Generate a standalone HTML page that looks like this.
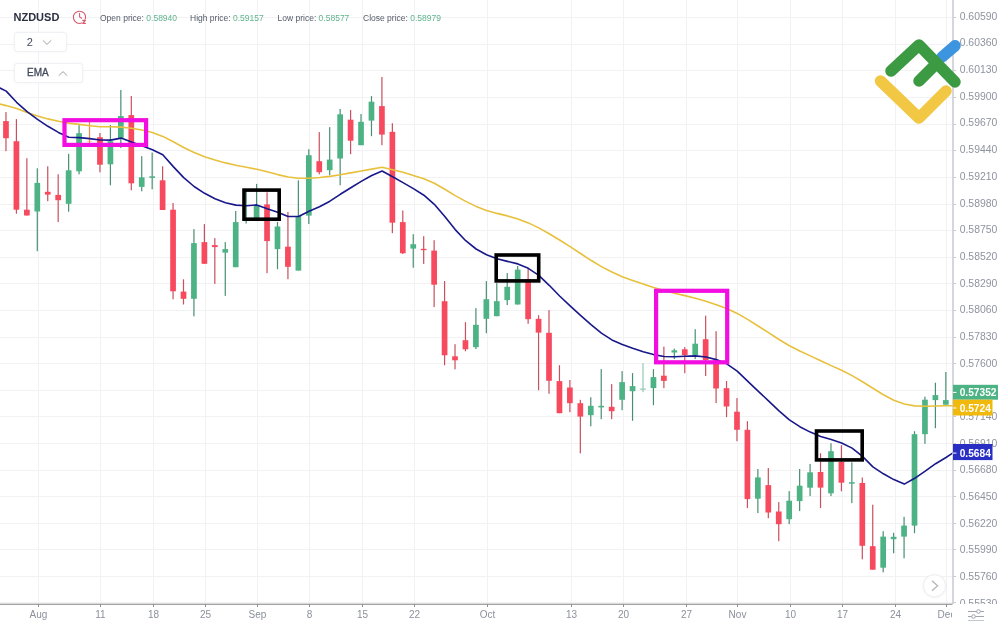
<!DOCTYPE html>
<html><head><meta charset="utf-8"><title>NZDUSD</title>
<style>
html,body{margin:0;padding:0;background:#fff}
body{width:1000px;height:623px;position:relative;overflow:hidden;font-family:"Liberation Sans",Arial,sans-serif}
.sym{position:absolute;left:13.5px;top:11px;font-size:11px;font-weight:bold;color:#2b3040;line-height:13px;letter-spacing:0}
.ohlc{position:absolute;top:12px;font-size:8.5px;line-height:12px;color:#555b68;white-space:nowrap}
.ohlc b{font-weight:normal;color:#5fb58d}
.btn{position:absolute;box-sizing:border-box;border:1px solid #f0f1f4;border-radius:3.5px;background:#fff;box-shadow:0 0 2px rgba(200,205,215,0.25);color:#454b5e;font-size:10px;line-height:20px}
</style></head><body>
<svg width="1000" height="623" viewBox="0 0 1000 623" style="position:absolute;left:0;top:0">
<g stroke="#f2f2f5" stroke-width="1" shape-rendering="crispEdges">
<line x1="0" y1="17.5" x2="953" y2="17.5"/>
<line x1="0" y1="44.5" x2="953" y2="44.5"/>
<line x1="0" y1="70.5" x2="953" y2="70.5"/>
<line x1="0" y1="97.5" x2="953" y2="97.5"/>
<line x1="0" y1="124.5" x2="953" y2="124.5"/>
<line x1="0" y1="150.5" x2="953" y2="150.5"/>
<line x1="0" y1="177.5" x2="953" y2="177.5"/>
<line x1="0" y1="204.5" x2="953" y2="204.5"/>
<line x1="0" y1="230.5" x2="953" y2="230.5"/>
<line x1="0" y1="257.5" x2="953" y2="257.5"/>
<line x1="0" y1="283.5" x2="953" y2="283.5"/>
<line x1="0" y1="310.5" x2="953" y2="310.5"/>
<line x1="0" y1="337.5" x2="953" y2="337.5"/>
<line x1="0" y1="363.5" x2="953" y2="363.5"/>
<line x1="0" y1="390.5" x2="953" y2="390.5"/>
<line x1="0" y1="416.5" x2="953" y2="416.5"/>
<line x1="0" y1="443.5" x2="953" y2="443.5"/>
<line x1="0" y1="470.5" x2="953" y2="470.5"/>
<line x1="0" y1="496.5" x2="953" y2="496.5"/>
<line x1="0" y1="523.5" x2="953" y2="523.5"/>
<line x1="0" y1="549.5" x2="953" y2="549.5"/>
<line x1="0" y1="576.5" x2="953" y2="576.5"/>
<line x1="0" y1="602.5" x2="953" y2="602.5"/>
<line x1="38.5" y1="0" x2="38.5" y2="604"/>
<line x1="100.5" y1="0" x2="100.5" y2="604"/>
<line x1="153.5" y1="0" x2="153.5" y2="604"/>
<line x1="205.5" y1="0" x2="205.5" y2="604"/>
<line x1="257.5" y1="0" x2="257.5" y2="604"/>
<line x1="309.5" y1="0" x2="309.5" y2="604"/>
<line x1="362.5" y1="0" x2="362.5" y2="604"/>
<line x1="414.5" y1="0" x2="414.5" y2="604"/>
<line x1="487.5" y1="0" x2="487.5" y2="604"/>
<line x1="571.5" y1="0" x2="571.5" y2="604"/>
<line x1="623.5" y1="0" x2="623.5" y2="604"/>
<line x1="686.5" y1="0" x2="686.5" y2="604"/>
<line x1="737.5" y1="0" x2="737.5" y2="604"/>
<line x1="790.5" y1="0" x2="790.5" y2="604"/>
<line x1="842.5" y1="0" x2="842.5" y2="604"/>
<line x1="895.5" y1="0" x2="895.5" y2="604"/>
<line x1="946.5" y1="0" x2="946.5" y2="604"/>
</g>
<g clip-path="url(#plot)">
<defs><clipPath id="plot"><rect x="0" y="0" width="953" height="604"/></clipPath></defs>
<rect x="5.37" y="112.1" width="1.2" height="39.1" fill="#c9505e"/>
<rect x="3.12" y="121.1" width="5.7" height="17.1" fill="#f84a5e"/>
<rect x="15.81" y="119.1" width="1.2" height="94.6" fill="#c9505e"/>
<rect x="13.56" y="141.2" width="5.7" height="68.5" fill="#f84a5e"/>
<rect x="26.26" y="158.2" width="1.2" height="57.3" fill="#c9505e"/>
<rect x="24.01" y="209.7" width="5.7" height="5.8" fill="#f84a5e"/>
<rect x="36.70" y="168.3" width="1.2" height="82.9" fill="#4a8f73"/>
<rect x="34.45" y="182.9" width="5.7" height="28.6" fill="#4db385"/>
<rect x="47.14" y="166.3" width="1.2" height="34.9" fill="#c9505e"/>
<rect x="44.89" y="191.8" width="5.7" height="2.8" fill="#f84a5e"/>
<rect x="57.58" y="174.3" width="1.2" height="47.8" fill="#c9505e"/>
<rect x="55.33" y="194.9" width="5.7" height="5.3" fill="#f84a5e"/>
<rect x="68.03" y="153.8" width="1.2" height="57.9" fill="#4a8f73"/>
<rect x="65.78" y="170.3" width="5.7" height="33.5" fill="#4db385"/>
<rect x="78.47" y="125.1" width="1.2" height="49.2" fill="#4a8f73"/>
<rect x="76.22" y="133.2" width="5.7" height="38.1" fill="#4db385"/>
<rect x="88.91" y="122.0" width="1.2" height="24.0" fill="#f08a4b"/>
<rect x="86.66" y="141.0" width="5.7" height="0.3" fill="#f08a4b"/>
<rect x="99.36" y="133.0" width="1.2" height="39.3" fill="#c9505e"/>
<rect x="97.11" y="137.2" width="5.7" height="27.5" fill="#f84a5e"/>
<rect x="109.80" y="125.0" width="1.2" height="60.3" fill="#4a8f73"/>
<rect x="107.55" y="141.2" width="5.7" height="23.1" fill="#4db385"/>
<rect x="120.24" y="90.0" width="1.2" height="58.0" fill="#4a8f73"/>
<rect x="117.99" y="116.1" width="5.7" height="22.1" fill="#4db385"/>
<rect x="130.69" y="96.0" width="1.2" height="94.3" fill="#c9505e"/>
<rect x="128.44" y="115.1" width="5.7" height="68.2" fill="#f84a5e"/>
<rect x="141.13" y="156.2" width="1.2" height="35.1" fill="#4a8f73"/>
<rect x="138.88" y="177.3" width="5.7" height="9.6" fill="#4db385"/>
<rect x="151.57" y="152.6" width="1.2" height="36.7" fill="#4a8f73"/>
<rect x="149.32" y="176.3" width="5.7" height="1.6" fill="#4db385"/>
<rect x="162.01" y="166.3" width="1.2" height="43.7" fill="#c9505e"/>
<rect x="159.76" y="180.3" width="5.7" height="29.7" fill="#f84a5e"/>
<rect x="172.46" y="203.0" width="1.2" height="96.3" fill="#c9505e"/>
<rect x="170.21" y="209.7" width="5.7" height="81.6" fill="#f84a5e"/>
<rect x="182.90" y="279.3" width="1.2" height="25.2" fill="#c9505e"/>
<rect x="180.65" y="291.6" width="5.7" height="7.2" fill="#f84a5e"/>
<rect x="193.34" y="229.1" width="1.2" height="87.2" fill="#4a8f73"/>
<rect x="191.09" y="243.1" width="5.7" height="55.7" fill="#4db385"/>
<rect x="203.79" y="224.1" width="1.2" height="39.7" fill="#c9505e"/>
<rect x="201.54" y="242.1" width="5.7" height="21.7" fill="#f84a5e"/>
<rect x="214.23" y="238.1" width="1.2" height="45.8" fill="#c9505e"/>
<rect x="211.98" y="245.1" width="5.7" height="2.0" fill="#f84a5e"/>
<rect x="224.67" y="242.1" width="1.2" height="53.8" fill="#4a8f73"/>
<rect x="222.42" y="249.1" width="5.7" height="3.5" fill="#4db385"/>
<rect x="235.12" y="211.0" width="1.2" height="56.2" fill="#4a8f73"/>
<rect x="232.87" y="222.1" width="5.7" height="45.1" fill="#4db385"/>
<rect x="245.56" y="190.0" width="1.2" height="33.5" fill="#4a8f73"/>
<rect x="243.31" y="218.5" width="5.7" height="1.0" fill="#4db385"/>
<rect x="256.00" y="183.9" width="1.2" height="35.1" fill="#4a8f73"/>
<rect x="253.75" y="205.3" width="5.7" height="13.7" fill="#4db385"/>
<rect x="266.44" y="192.3" width="1.2" height="80.9" fill="#c9505e"/>
<rect x="264.19" y="204.4" width="5.7" height="36.7" fill="#f84a5e"/>
<rect x="276.89" y="222.0" width="1.2" height="47.2" fill="#4a8f73"/>
<rect x="274.64" y="226.5" width="5.7" height="22.6" fill="#4db385"/>
<rect x="287.33" y="212.0" width="1.2" height="67.2" fill="#c9505e"/>
<rect x="285.08" y="246.7" width="5.7" height="20.1" fill="#f84a5e"/>
<rect x="297.77" y="180.3" width="1.2" height="90.3" fill="#4a8f73"/>
<rect x="295.52" y="216.0" width="5.7" height="54.6" fill="#4db385"/>
<rect x="308.22" y="149.2" width="1.2" height="74.8" fill="#4a8f73"/>
<rect x="305.97" y="155.2" width="5.7" height="60.4" fill="#4db385"/>
<rect x="318.66" y="132.1" width="1.2" height="42.2" fill="#c9505e"/>
<rect x="316.41" y="161.2" width="5.7" height="11.0" fill="#f84a5e"/>
<rect x="329.10" y="127.1" width="1.2" height="48.2" fill="#4a8f73"/>
<rect x="326.85" y="159.6" width="5.7" height="10.6" fill="#4db385"/>
<rect x="339.55" y="109.0" width="1.2" height="76.3" fill="#4a8f73"/>
<rect x="337.30" y="114.3" width="5.7" height="44.2" fill="#4db385"/>
<rect x="349.99" y="110.0" width="1.2" height="44.2" fill="#c9505e"/>
<rect x="347.74" y="119.7" width="5.7" height="21.0" fill="#f84a5e"/>
<rect x="360.43" y="114.0" width="1.2" height="31.2" fill="#4a8f73"/>
<rect x="358.18" y="121.8" width="5.7" height="23.4" fill="#4db385"/>
<rect x="370.88" y="96.1" width="1.2" height="40.1" fill="#4a8f73"/>
<rect x="368.62" y="101.7" width="5.7" height="18.9" fill="#4db385"/>
<rect x="381.32" y="77.0" width="1.2" height="68.2" fill="#c9505e"/>
<rect x="379.07" y="106.1" width="5.7" height="28.5" fill="#f84a5e"/>
<rect x="391.76" y="123.2" width="1.2" height="110.0" fill="#c9505e"/>
<rect x="389.51" y="131.8" width="5.7" height="90.9" fill="#f84a5e"/>
<rect x="402.20" y="210.5" width="1.2" height="43.5" fill="#c9505e"/>
<rect x="399.95" y="222.1" width="5.7" height="31.1" fill="#f84a5e"/>
<rect x="412.65" y="234.2" width="1.2" height="33.5" fill="#4a8f73"/>
<rect x="410.40" y="244.2" width="5.7" height="4.4" fill="#4db385"/>
<rect x="423.09" y="236.2" width="1.2" height="27.7" fill="#c9505e"/>
<rect x="420.84" y="248.8" width="5.7" height="1.4" fill="#f84a5e"/>
<rect x="433.53" y="240.2" width="1.2" height="66.9" fill="#c9505e"/>
<rect x="431.28" y="250.6" width="5.7" height="34.1" fill="#f84a5e"/>
<rect x="443.98" y="281.0" width="1.2" height="84.3" fill="#c9505e"/>
<rect x="441.73" y="301.2" width="5.7" height="54.1" fill="#f84a5e"/>
<rect x="454.42" y="344.2" width="1.2" height="25.1" fill="#c9505e"/>
<rect x="452.17" y="356.3" width="5.7" height="4.0" fill="#f84a5e"/>
<rect x="464.86" y="322.2" width="1.2" height="29.1" fill="#c9505e"/>
<rect x="462.61" y="340.2" width="5.7" height="9.1" fill="#f84a5e"/>
<rect x="475.31" y="308.1" width="1.2" height="40.9" fill="#4a8f73"/>
<rect x="473.06" y="324.8" width="5.7" height="22.4" fill="#4db385"/>
<rect x="485.75" y="281.1" width="1.2" height="52.1" fill="#4a8f73"/>
<rect x="483.50" y="299.2" width="5.7" height="19.6" fill="#4db385"/>
<rect x="496.19" y="283.1" width="1.2" height="33.1" fill="#4a8f73"/>
<rect x="493.94" y="301.2" width="5.7" height="15.0" fill="#4db385"/>
<rect x="506.63" y="273.1" width="1.2" height="32.0" fill="#4a8f73"/>
<rect x="504.38" y="286.8" width="5.7" height="13.3" fill="#4db385"/>
<rect x="517.08" y="266.0" width="1.2" height="38.5" fill="#4a8f73"/>
<rect x="514.83" y="269.6" width="5.7" height="34.9" fill="#4db385"/>
<rect x="527.52" y="268.3" width="1.2" height="55.5" fill="#c9505e"/>
<rect x="525.27" y="279.2" width="5.7" height="40.0" fill="#f84a5e"/>
<rect x="537.96" y="315.2" width="1.2" height="75.0" fill="#c9505e"/>
<rect x="535.71" y="318.8" width="5.7" height="13.8" fill="#f84a5e"/>
<rect x="548.41" y="310.1" width="1.2" height="83.7" fill="#c9505e"/>
<rect x="546.16" y="332.8" width="5.7" height="48.0" fill="#f84a5e"/>
<rect x="558.85" y="365.2" width="1.2" height="48.0" fill="#c9505e"/>
<rect x="556.60" y="381.1" width="5.7" height="32.1" fill="#f84a5e"/>
<rect x="569.29" y="380.0" width="1.2" height="32.2" fill="#c9505e"/>
<rect x="567.04" y="387.5" width="5.7" height="15.7" fill="#f84a5e"/>
<rect x="579.73" y="399.8" width="1.2" height="53.5" fill="#c9505e"/>
<rect x="577.48" y="403.2" width="5.7" height="13.4" fill="#f84a5e"/>
<rect x="590.18" y="397.2" width="1.2" height="29.1" fill="#4a8f73"/>
<rect x="587.93" y="405.8" width="5.7" height="9.4" fill="#4db385"/>
<rect x="600.62" y="369.1" width="1.2" height="50.1" fill="#4a8f73"/>
<rect x="598.37" y="405.8" width="5.7" height="1.6" fill="#4db385"/>
<rect x="611.06" y="384.1" width="1.2" height="35.1" fill="#c9505e"/>
<rect x="608.81" y="406.8" width="5.7" height="4.4" fill="#f84a5e"/>
<rect x="621.51" y="371.1" width="1.2" height="39.1" fill="#4a8f73"/>
<rect x="619.26" y="382.1" width="5.7" height="17.7" fill="#4db385"/>
<rect x="631.95" y="373.1" width="1.2" height="47.7" fill="#4a8f73"/>
<rect x="629.70" y="386.1" width="5.7" height="5.1" fill="#4db385"/>
<rect x="642.39" y="363.1" width="1.2" height="29.1" fill="#93c9b3"/>
<rect x="640.14" y="388.5" width="5.7" height="1.2" fill="#93c9b3"/>
<rect x="652.84" y="369.1" width="1.2" height="36.1" fill="#4a8f73"/>
<rect x="650.59" y="377.1" width="5.7" height="11.0" fill="#4db385"/>
<rect x="663.28" y="346.6" width="1.2" height="41.6" fill="#c9505e"/>
<rect x="661.03" y="375.7" width="5.7" height="5.2" fill="#f84a5e"/>
<rect x="673.72" y="348.6" width="1.2" height="10.5" fill="#4a8f73"/>
<rect x="671.47" y="350.3" width="5.7" height="2.2" fill="#4db385"/>
<rect x="684.16" y="347.1" width="1.2" height="26.1" fill="#c9505e"/>
<rect x="681.91" y="349.3" width="5.7" height="5.8" fill="#f84a5e"/>
<rect x="694.61" y="329.2" width="1.2" height="29.9" fill="#4a8f73"/>
<rect x="692.36" y="343.7" width="5.7" height="11.4" fill="#4db385"/>
<rect x="705.05" y="315.7" width="1.2" height="60.3" fill="#c9505e"/>
<rect x="702.80" y="339.2" width="5.7" height="20.9" fill="#f84a5e"/>
<rect x="715.49" y="331.2" width="1.2" height="71.9" fill="#c9505e"/>
<rect x="713.24" y="360.0" width="5.7" height="28.5" fill="#f84a5e"/>
<rect x="725.94" y="381.0" width="1.2" height="36.1" fill="#c9505e"/>
<rect x="723.69" y="388.2" width="5.7" height="18.3" fill="#f84a5e"/>
<rect x="736.38" y="398.1" width="1.2" height="43.1" fill="#c9505e"/>
<rect x="734.13" y="411.7" width="5.7" height="18.1" fill="#f84a5e"/>
<rect x="746.82" y="421.2" width="1.2" height="86.9" fill="#c9505e"/>
<rect x="744.57" y="429.8" width="5.7" height="69.3" fill="#f84a5e"/>
<rect x="757.27" y="469.0" width="1.2" height="44.1" fill="#4a8f73"/>
<rect x="755.02" y="477.4" width="5.7" height="21.3" fill="#4db385"/>
<rect x="767.71" y="468.0" width="1.2" height="50.2" fill="#c9505e"/>
<rect x="765.46" y="485.1" width="5.7" height="27.4" fill="#f84a5e"/>
<rect x="778.15" y="502.1" width="1.2" height="39.1" fill="#c9505e"/>
<rect x="775.90" y="511.5" width="5.7" height="12.7" fill="#f84a5e"/>
<rect x="788.59" y="491.1" width="1.2" height="33.1" fill="#4a8f73"/>
<rect x="786.34" y="500.7" width="5.7" height="18.5" fill="#4db385"/>
<rect x="799.04" y="469.0" width="1.2" height="42.1" fill="#4a8f73"/>
<rect x="796.79" y="485.7" width="5.7" height="15.4" fill="#4db385"/>
<rect x="809.48" y="464.0" width="1.2" height="32.1" fill="#4a8f73"/>
<rect x="807.23" y="472.3" width="5.7" height="15.4" fill="#4db385"/>
<rect x="819.92" y="453.2" width="1.2" height="54.9" fill="#c9505e"/>
<rect x="817.67" y="472.0" width="5.7" height="15.6" fill="#f84a5e"/>
<rect x="830.37" y="443.2" width="1.2" height="52.9" fill="#4a8f73"/>
<rect x="828.12" y="451.2" width="5.7" height="42.1" fill="#4db385"/>
<rect x="840.81" y="445.2" width="1.2" height="46.1" fill="#c9505e"/>
<rect x="838.56" y="461.9" width="5.7" height="20.8" fill="#f84a5e"/>
<rect x="851.25" y="462.3" width="1.2" height="40.8" fill="#4a8f73"/>
<rect x="849.00" y="482.2" width="5.7" height="1.5" fill="#4db385"/>
<rect x="861.70" y="477.5" width="1.2" height="81.8" fill="#c9505e"/>
<rect x="859.45" y="483.0" width="5.7" height="62.8" fill="#f84a5e"/>
<rect x="872.14" y="504.7" width="1.2" height="65.0" fill="#c9505e"/>
<rect x="869.89" y="546.2" width="5.7" height="23.5" fill="#f84a5e"/>
<rect x="882.58" y="531.2" width="1.2" height="41.1" fill="#4a8f73"/>
<rect x="880.33" y="536.6" width="5.7" height="31.1" fill="#4db385"/>
<rect x="893.02" y="532.8" width="1.2" height="20.5" fill="#4a8f73"/>
<rect x="890.77" y="536.8" width="5.7" height="2.4" fill="#4db385"/>
<rect x="903.47" y="516.8" width="1.2" height="41.5" fill="#4a8f73"/>
<rect x="901.22" y="525.6" width="5.7" height="11.0" fill="#4db385"/>
<rect x="913.91" y="431.2" width="1.2" height="102.0" fill="#4a8f73"/>
<rect x="911.66" y="434.2" width="5.7" height="91.4" fill="#4db385"/>
<rect x="924.35" y="396.7" width="1.2" height="47.1" fill="#4a8f73"/>
<rect x="922.10" y="399.7" width="5.7" height="34.5" fill="#4db385"/>
<rect x="934.80" y="382.7" width="1.2" height="45.5" fill="#4a8f73"/>
<rect x="932.55" y="395.1" width="5.7" height="5.0" fill="#4db385"/>
<rect x="945.24" y="372.0" width="1.2" height="32.7" fill="#4a8f73"/>
<rect x="942.99" y="400.1" width="5.7" height="4.6" fill="#4db385"/>
<polyline points="0.0,104.1 6.2,105.6 16.6,108.5 27.1,112.4 37.5,116.0 47.9,118.9 58.4,121.3 68.8,123.1 79.3,124.4 89.7,125.7 100.2,126.7 110.6,126.8 121.0,127.1 131.5,128.2 141.9,130.0 152.4,132.5 162.8,136.4 173.3,141.8 183.7,147.5 194.1,152.5 204.6,156.7 215.0,160.1 225.5,162.9 235.9,165.2 246.4,167.2 256.8,169.3 267.2,171.8 277.7,174.6 288.1,177.0 298.6,178.2 309.0,178.2 319.5,177.5 329.9,176.4 340.3,174.8 350.8,172.9 361.2,171.0 371.7,169.1 382.1,167.3 392.6,169.7 403.0,172.3 413.4,175.4 423.9,178.8 434.3,183.3 444.8,189.2 455.2,195.6 465.7,201.4 476.1,206.4 486.5,210.4 497.0,213.4 507.4,215.9 517.9,219.0 528.3,222.9 538.8,227.9 549.2,233.7 559.6,240.0 570.1,246.7 580.5,253.5 591.0,260.3 601.4,266.6 611.9,272.0 622.3,276.7 632.7,280.5 643.2,284.0 653.6,287.4 664.1,290.4 674.5,293.2 685.0,295.6 695.4,298.2 705.9,301.2 716.3,304.7 726.7,308.6 737.2,313.4 747.6,319.4 758.1,326.0 768.5,332.7 779.0,339.5 789.4,345.7 799.8,351.0 810.3,355.9 820.7,360.7 831.2,365.6 841.6,370.3 852.1,375.6 862.5,381.8 872.9,388.3 883.4,394.7 893.8,400.2 904.3,404.0 914.7,405.9 925.2,406.2 935.6,406.0 946.0,405.8 953.0,405.7" fill="none" stroke="#e8c03c" stroke-width="1.6" stroke-linejoin="round" stroke-linecap="round"/>
<polyline points="0.0,88.0 6.2,91.1 16.6,102.3 27.1,111.7 37.5,119.3 47.9,126.3 58.4,132.4 68.8,137.2 79.3,137.6 89.7,138.6 100.2,140.0 110.6,140.1 121.0,138.1 131.5,142.0 141.9,145.7 152.4,149.8 162.8,154.7 173.3,166.6 183.7,177.6 194.1,186.5 204.6,193.3 215.0,198.7 225.5,202.7 235.9,205.1 246.4,205.8 256.8,204.9 267.2,208.7 277.7,212.2 288.1,216.5 298.6,216.5 309.0,211.3 319.5,206.7 329.9,201.2 340.3,194.3 350.8,187.7 361.2,181.4 371.7,175.5 382.1,171.0 392.6,176.8 403.0,182.6 413.4,188.6 423.9,195.2 434.3,204.3 444.8,216.5 455.2,229.6 465.7,240.7 476.1,249.0 486.5,254.7 497.0,258.8 507.4,261.4 517.9,263.9 528.3,268.3 538.8,275.4 549.2,285.3 559.6,296.0 570.1,305.8 580.5,315.4 591.0,324.6 601.4,333.2 611.9,339.9 622.3,344.4 632.7,348.2 643.2,351.7 653.6,354.6 664.1,356.5 674.5,356.8 685.0,356.2 695.4,355.9 705.9,357.0 716.3,359.6 726.7,363.8 737.2,371.1 747.6,381.1 758.1,391.1 768.5,400.8 779.0,410.8 789.4,419.8 799.8,426.7 810.3,432.1 820.7,436.4 831.2,439.6 841.6,443.0 852.1,448.1 862.5,456.4 872.9,466.9 883.4,473.8 893.8,479.6 904.3,484.1 914.7,478.3 925.2,471.2 935.6,463.7 946.0,457.5 953.0,452.9" fill="none" stroke="#18188a" stroke-width="1.6" stroke-linejoin="round" stroke-linecap="round"/>
</g>
<rect x="64.5" y="120.19999999999999" width="81.59999999999998" height="24.700000000000006" fill="none" stroke="#f20de0" stroke-width="4.2" opacity="1"/>
<rect x="656.1" y="290.8" width="71.09999999999995" height="71.49999999999999" fill="none" stroke="#f20de0" stroke-width="4.2" opacity="1"/>
<rect x="244.0" y="190.10000000000002" width="35.20000000000001" height="29.099999999999987" fill="none" stroke="#000" stroke-width="3.6" opacity="1"/>
<rect x="496.2" y="255.0" width="42.50000000000002" height="25.9" fill="none" stroke="#000" stroke-width="3.6" opacity="1"/>
<rect x="816.5" y="431.0" width="45.69999999999995" height="28.9" fill="none" stroke="#000" stroke-width="3.6" opacity="1"/>
<rect x="953" y="0" width="47" height="623" fill="#fff"/>
<rect x="0" y="604.5" width="1000" height="19" fill="#fff"/>
<line x1="953" y1="0" x2="953" y2="604" stroke="#c7cad2" stroke-width="1.5"/>
<rect x="0" y="603.7" width="952.5" height="1.1" fill="#8c8c8c"/>
<g font-family="Liberation Sans, Arial, sans-serif" font-size="10.4" fill="#8e939e">
<line x1="953.5" y1="17.5" x2="956" y2="17.5" stroke="#c7cad2" stroke-width="1"/>
<text x="959.7" y="19.7">0.60590</text>
<line x1="953.5" y1="44.5" x2="956" y2="44.5" stroke="#c7cad2" stroke-width="1"/>
<text x="959.7" y="46.4">0.60360</text>
<line x1="953.5" y1="70.5" x2="956" y2="70.5" stroke="#c7cad2" stroke-width="1"/>
<text x="959.7" y="73.1">0.60130</text>
<line x1="953.5" y1="97.5" x2="956" y2="97.5" stroke="#c7cad2" stroke-width="1"/>
<text x="959.7" y="99.7">0.59900</text>
<line x1="953.5" y1="124.5" x2="956" y2="124.5" stroke="#c7cad2" stroke-width="1"/>
<text x="959.7" y="126.4">0.59670</text>
<line x1="953.5" y1="150.5" x2="956" y2="150.5" stroke="#c7cad2" stroke-width="1"/>
<text x="959.7" y="153.1">0.59440</text>
<line x1="953.5" y1="177.5" x2="956" y2="177.5" stroke="#c7cad2" stroke-width="1"/>
<text x="959.7" y="179.8">0.59210</text>
<line x1="953.5" y1="204.5" x2="956" y2="204.5" stroke="#c7cad2" stroke-width="1"/>
<text x="959.7" y="206.5">0.58980</text>
<line x1="953.5" y1="230.5" x2="956" y2="230.5" stroke="#c7cad2" stroke-width="1"/>
<text x="959.7" y="233.1">0.58750</text>
<line x1="953.5" y1="257.5" x2="956" y2="257.5" stroke="#c7cad2" stroke-width="1"/>
<text x="959.7" y="259.8">0.58520</text>
<line x1="953.5" y1="283.5" x2="956" y2="283.5" stroke="#c7cad2" stroke-width="1"/>
<text x="959.7" y="286.5">0.58290</text>
<line x1="953.5" y1="310.5" x2="956" y2="310.5" stroke="#c7cad2" stroke-width="1"/>
<text x="959.7" y="313.2">0.58060</text>
<line x1="953.5" y1="337.5" x2="956" y2="337.5" stroke="#c7cad2" stroke-width="1"/>
<text x="959.7" y="339.9">0.57830</text>
<line x1="953.5" y1="363.5" x2="956" y2="363.5" stroke="#c7cad2" stroke-width="1"/>
<text x="959.7" y="366.5">0.57600</text>
<line x1="953.5" y1="390.5" x2="956" y2="390.5" stroke="#c7cad2" stroke-width="1"/>
<line x1="953.5" y1="416.5" x2="956" y2="416.5" stroke="#c7cad2" stroke-width="1"/>
<text x="959.7" y="419.9">0.57140</text>
<line x1="953.5" y1="443.5" x2="956" y2="443.5" stroke="#c7cad2" stroke-width="1"/>
<text x="959.7" y="446.6">0.56910</text>
<line x1="953.5" y1="470.5" x2="956" y2="470.5" stroke="#c7cad2" stroke-width="1"/>
<text x="959.7" y="473.3">0.56680</text>
<line x1="953.5" y1="496.5" x2="956" y2="496.5" stroke="#c7cad2" stroke-width="1"/>
<text x="959.7" y="499.9">0.56450</text>
<line x1="953.5" y1="523.5" x2="956" y2="523.5" stroke="#c7cad2" stroke-width="1"/>
<text x="959.7" y="526.6">0.56220</text>
<line x1="953.5" y1="549.5" x2="956" y2="549.5" stroke="#c7cad2" stroke-width="1"/>
<text x="959.7" y="553.3">0.55990</text>
<line x1="953.5" y1="576.5" x2="956" y2="576.5" stroke="#c7cad2" stroke-width="1"/>
<text x="959.7" y="580.0">0.55760</text>
<line x1="953.5" y1="602.5" x2="956" y2="602.5" stroke="#c7cad2" stroke-width="1"/>
<text x="959.7" y="606.7">0.55530</text>
</g>
<rect x="953" y="604" width="47" height="19" fill="#fff"/>
<g font-family="Liberation Sans, Arial, sans-serif" font-size="10" fill="#8b909c" text-anchor="middle">
<line x1="38.5" y1="604" x2="38.5" y2="607" stroke="#8e8e8e" stroke-width="1"/>
<text x="38.5" y="618">Aug</text>
<line x1="100.5" y1="604" x2="100.5" y2="607" stroke="#8e8e8e" stroke-width="1"/>
<text x="100.5" y="618">11</text>
<line x1="153.5" y1="604" x2="153.5" y2="607" stroke="#8e8e8e" stroke-width="1"/>
<text x="153.5" y="618">18</text>
<line x1="205.5" y1="604" x2="205.5" y2="607" stroke="#8e8e8e" stroke-width="1"/>
<text x="205.5" y="618">25</text>
<line x1="257.5" y1="604" x2="257.5" y2="607" stroke="#8e8e8e" stroke-width="1"/>
<text x="257.5" y="618">Sep</text>
<line x1="309.5" y1="604" x2="309.5" y2="607" stroke="#8e8e8e" stroke-width="1"/>
<text x="309.5" y="618">8</text>
<line x1="362.5" y1="604" x2="362.5" y2="607" stroke="#8e8e8e" stroke-width="1"/>
<text x="362.5" y="618">15</text>
<line x1="414.5" y1="604" x2="414.5" y2="607" stroke="#8e8e8e" stroke-width="1"/>
<text x="414.5" y="618">22</text>
<line x1="487.5" y1="604" x2="487.5" y2="607" stroke="#8e8e8e" stroke-width="1"/>
<text x="487.5" y="618">Oct</text>
<line x1="571.5" y1="604" x2="571.5" y2="607" stroke="#8e8e8e" stroke-width="1"/>
<text x="571.5" y="618">13</text>
<line x1="623.5" y1="604" x2="623.5" y2="607" stroke="#8e8e8e" stroke-width="1"/>
<text x="623.5" y="618">20</text>
<line x1="686.5" y1="604" x2="686.5" y2="607" stroke="#8e8e8e" stroke-width="1"/>
<text x="686.5" y="618">27</text>
<line x1="737.5" y1="604" x2="737.5" y2="607" stroke="#8e8e8e" stroke-width="1"/>
<text x="737.5" y="618">Nov</text>
<line x1="790.5" y1="604" x2="790.5" y2="607" stroke="#8e8e8e" stroke-width="1"/>
<text x="790.5" y="618">10</text>
<line x1="842.5" y1="604" x2="842.5" y2="607" stroke="#8e8e8e" stroke-width="1"/>
<text x="842.5" y="618">17</text>
<line x1="895.5" y1="604" x2="895.5" y2="607" stroke="#8e8e8e" stroke-width="1"/>
<text x="895.5" y="618">24</text>
<line x1="946.5" y1="604" x2="946.5" y2="607" stroke="#8e8e8e" stroke-width="1"/>
<text x="946.5" y="618">Dec</text>
</g>
<rect x="952" y="605" width="48" height="18" fill="#fff"/>
<rect x="953" y="384.8" width="45" height="14.9" fill="#4db385"/><line x1="953" y1="392.4" x2="956.5" y2="392.4" stroke="#fff" stroke-width="1"/><text x="959.7" y="396.0" font-family="Liberation Sans, Arial, sans-serif" font-size="10.2" font-weight="bold" fill="#fff">0.57352</text>
<rect x="953" y="399.7" width="39.5" height="15.8" fill="#f0b90b"/><line x1="953" y1="408.0" x2="956.5" y2="408.0" stroke="#fff" stroke-width="1"/><text x="959.7" y="411.6" font-family="Liberation Sans, Arial, sans-serif" font-size="10.2" font-weight="bold" fill="#fff">0.5724</text>
<rect x="953" y="444" width="39.5" height="16.1" fill="#2a2fc4"/><line x1="953" y1="453.09999999999997" x2="956.5" y2="453.09999999999997" stroke="#fff" stroke-width="1"/><text x="959.7" y="456.7" font-family="Liberation Sans, Arial, sans-serif" font-size="10.2" font-weight="bold" fill="#fff">0.5684</text>
<g fill="none" stroke-linecap="round" stroke-linejoin="round" stroke-width="11.5">
<path d="M942 57 L955 45.8" stroke="#3d95e0"/>
<path d="M880.5 81 L919 118 L946 91" stroke="#f2c744"/>
<path d="M891 71 L919 45 L955 82 M934 66 L919 81" stroke="#3c9a43"/>
</g>
<circle cx="934.5" cy="586" r="12.3" fill="#e9ebee" opacity="0.45"/><circle cx="934.5" cy="585.8" r="11" fill="#fff" stroke="#eef0f2" stroke-width="1"/>
<path d="M932 580.8 L937.6 585.8 L932 590.8" fill="none" stroke="#b5b5b5" stroke-width="1.3"/>
<g stroke="#a0a4ad" stroke-width="1" fill="#fff"><line x1="968" y1="611.5" x2="984" y2="611.5"/><circle cx="978.5" cy="611.5" r="1.8"/><line x1="968" y1="616.5" x2="984" y2="616.5"/><circle cx="973.5" cy="616.5" r="1.8"/><line x1="968" y1="620.5" x2="984" y2="620.5" stroke="#c4c7cd"/></g>
</svg>
<div class="sym">NZDUSD</div>
<svg style="position:absolute;left:70px;top:8px" width="20" height="20" viewBox="0 0 20 20"><g fill="none" stroke="#d9566b" stroke-width="1.05" stroke-linecap="round" stroke-linejoin="round"><circle cx="9.5" cy="9.3" r="6.1"/><rect x="12" y="11.6" width="5" height="5" fill="#fff" stroke="none"/><path d="M9.6 5.2 V8.9 L11.6 10.3"/><path d="M12.7 12.3 H15.3 L12.7 15.4 H15.3" stroke-width="1.2"/></g></svg>
<div class="ohlc" style="left:100px">Open price: <b>0.58940</b></div>
<div class="ohlc" style="left:190px">High price: <b>0.59157</b></div>
<div class="ohlc" style="left:277.5px">Low price: <b>0.58577</b></div>
<div class="ohlc" style="left:363px">Close price: <b>0.58979</b></div>
<div class="btn" style="left:13.5px;top:31.5px;width:53.5px;height:20px"><span style="position:absolute;left:12.3px;top:-1px;font-size:11px">2</span><svg style="position:absolute;left:27.5px;top:6.5px" width="10" height="7" viewBox="0 0 10 7"><path d="M0.8 1.3 L5 5.4 L9.2 1.3" fill="none" stroke="#9aa0ab" stroke-width="1"/></svg></div>
<div class="btn" style="left:13.5px;top:62.5px;width:69px;height:20.5px"><span style="position:absolute;left:12.5px;top:-0.5px;-webkit-text-stroke:0.3px #454b5e">EMA</span><svg style="position:absolute;left:43.5px;top:6.5px" width="10" height="7" viewBox="0 0 10 7"><path d="M0.8 5.7 L5 1.6 L9.2 5.7" fill="none" stroke="#9aa0ab" stroke-width="1"/></svg></div>
</body></html>
